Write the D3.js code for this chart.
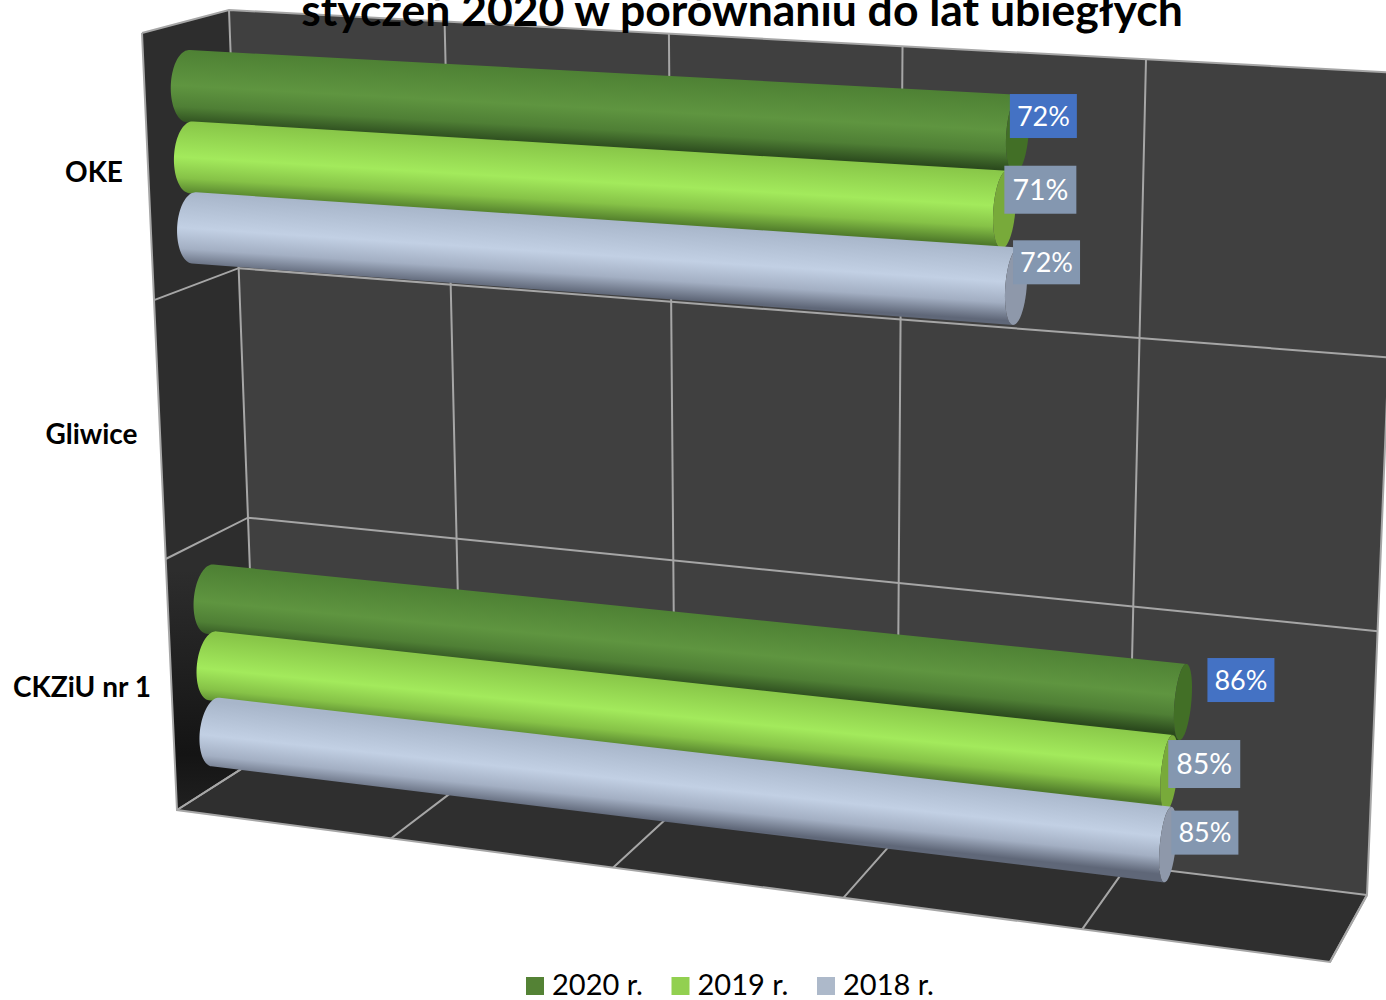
<!DOCTYPE html>
<html>
<head>
<meta charset="utf-8">
<script src="https://cdn.jsdelivr.net/npm/d3@7"></script>
<style>
  html, body { margin: 0; padding: 0; background: #fff; overflow: hidden; }
  text { font-family: Lato, "Open Sans", sans-serif; }
</style>
</head>
<body>
<div id="chart"></div>
<script>
// data
const titleLine = 'styczeń 2020 w porównaniu do lat ubiegłych';
const categories = ['OKE', 'Gliwice', 'CKZiU nr 1'];
const seriesNames = ['2020 r.', '2019 r.', '2018 r.'];
const values2020 = [72, null, 86];
const values2019 = [71, null, 85];
const values2018 = [72, null, 85];
const valueTicks = [0, 20, 40, 60, 80, 100];

// box corners in screen pixels: [top left, top right, bottom right, bottom left]
const backQuad = [[229, 10], [1400, 73], [1367, 895], [257, 759]];
const frontQuad = [[142, 33], [1352, 115], [1330, 962], [177, 810]];
const barQuad = [[185.5, 25], [1378, 87], [1352, 928], [218, 788]];
const barDepth = 0.2;

const seriesColors = [
  { swatch: '#548235', cap: '#426f26', shade: ['#4e8134', '#5f9540', '#4f7f35', '#2b4a1d'] },
  { swatch: '#92d050', cap: '#78aa3a', shade: ['#88c648', '#a3ea5c', '#86c247', '#4f7a2a'] },
  { swatch: '#adb9ca', cap: '#8e98aa', shade: ['#a8b6ca', '#c2d0e4', '#a3afc3', '#5f6778'] }
];
// data labels were moved by hand in the original: offset from the bar end
const labelLayout = [
  [{ dx: 26, dy: -18, big: false }, null, { dx: 58, dy: -22, big: false }],
  [{ dx: 36, dy: -20, big: true }, null, { dx: 35, dy: -9, big: true }],
  [{ dx: 30.5, dy: -24, big: false }, null, { dx: 37, dy: -12, big: false }]
];

const width = 1386, height = 1000;
const svg = d3.select('#chart').append('svg')
  .attr('width', width).attr('height', height).style('display', 'block');
const defs = svg.append('defs');

// projective map from the unit square to a quad
function quadMap(q) {
  const [p0, p1, p2, p3] = q;
  const dx1 = p1[0] - p2[0], dx2 = p3[0] - p2[0], sx = p0[0] - p1[0] + p2[0] - p3[0];
  const dy1 = p1[1] - p2[1], dy2 = p3[1] - p2[1], sy = p0[1] - p1[1] + p2[1] - p3[1];
  const den = dx1 * dy2 - dx2 * dy1;
  const g = (sx * dy2 - dx2 * sy) / den, h = (dx1 * sy - sx * dy1) / den;
  const a = p1[0] - p0[0] + g * p1[0], b = p3[0] - p0[0] + h * p3[0];
  const d = p1[1] - p0[1] + g * p1[1], e = p3[1] - p0[1] + h * p3[1];
  return (u, t) => {
    const w = g * u + h * t + 1;
    return [(a * u + b * t + p0[0]) / w, (d * u + e * t + p0[1]) / w];
  };
}
const back = quadMap(backQuad), front = quadMap(frontQuad), barPlane = quadMap(barQuad);

const x = d3.scaleLinear().domain([0, 100]).range([0, 1]);
const y = d3.scaleBand().domain(categories).range([0, 1]);
const yInner = d3.scaleBand().domain(seriesNames).range([y.bandwidth() * 0.095, y.bandwidth() * 0.905]);

const line = d3.line();
const gridColor = '#a6a6a6';

// walls
svg.append('path').attr('d', line(backQuad) + 'Z').attr('fill', '#404040');
const sideGrad = defs.append('linearGradient').attr('id', 'sideWall')
  .attr('x1', 0).attr('y1', 0).attr('x2', 0).attr('y2', 1);
sideGrad.append('stop').attr('offset', 0.7).attr('stop-color', '#2d2d2d');
sideGrad.append('stop').attr('offset', 0.93).attr('stop-color', '#141414');
sideGrad.append('stop').attr('offset', 1).attr('stop-color', '#202020');
svg.append('path').attr('d', line([backQuad[0], backQuad[3], frontQuad[3], frontQuad[0]]) + 'Z')
  .attr('fill', 'url(#sideWall)');
svg.append('path').attr('d', line([backQuad[3], backQuad[2], frontQuad[2], frontQuad[3]]) + 'Z')
  .attr('fill', '#2f2f2f');

// gridlines
const grid = svg.append('g').attr('fill', 'none').attr('stroke', gridColor).attr('stroke-width', 2);
valueTicks.forEach(v => {
  grid.append('path').attr('d', line([back(x(v), 0), back(x(v), 1), front(x(v), 1)]));
});
d3.range(categories.length + 1).forEach(i => {
  const t = i / categories.length;
  grid.append('path').attr('d', line([front(0, t), back(0, t), back(1, t)]));
});
grid.append('path').attr('d', line([frontQuad[0], frontQuad[3], frontQuad[2], backQuad[2]]));

// cylinders
const bars = svg.append('g');
const allValues = [values2020, values2019, values2018];
const thetaSteps = d3.range(0, 1.0001, 1 / 48);

seriesNames.forEach((name, s) => {
  categories.forEach((cat, c) => {
    const val = allValues[s][c];
    if (val == null) return;
    const vMid = y(cat) + yInner(name) + yInner.bandwidth() / 2;
    const r = yInner.bandwidth() / 2;
    const ellipse = u => {
      const C = barPlane(u, vMid), hi = barPlane(u, vMid - r), lo = barPlane(u, vMid + r);
      const bk = back(u, vMid), fr = front(u, vMid);
      const A = [(lo[0] - hi[0]) / 2, (lo[1] - hi[1]) / 2];
      const B = [(bk[0] - fr[0]) * barDepth, (bk[1] - fr[1]) * barDepth];
      return th => [C[0] + A[0] * Math.cos(th) + B[0] * Math.sin(th),
                    C[1] + A[1] * Math.cos(th) + B[1] * Math.sin(th)];
    };
    const uEnd = x(val);
    const left = ellipse(0), right = ellipse(uEnd);
    const p0 = barPlane(0, vMid), p1 = barPlane(uEnd, vMid);
    const D = [p1[0] - p0[0], p1[1] - p0[1]];
    const cross = (a, b) => a[0] * b[1] - a[1] * b[0];
    // silhouette angle: where the ellipse tangent runs along the bar
    const e0 = ellipse(uEnd * 0.5), eMid = barPlane(uEnd * 0.5, vMid);
    const Am = [e0(0)[0] - eMid[0], e0(0)[1] - eMid[1]];
    const Bm = [e0(Math.PI / 2)[0] - eMid[0], e0(Math.PI / 2)[1] - eMid[1]];
    const th0 = Math.atan(cross(Bm, D) / cross(Am, D));

    const leftArc = thetaSteps.map(f => left(th0 - Math.PI + f * Math.PI));
    const rightArc = thetaSteps.map(f => right(th0 - f * Math.PI));

    const gradId = 'bar' + s + '_' + c;
    const g1 = e0(th0 - Math.PI), g2 = e0(th0);
    const grad = defs.append('linearGradient').attr('id', gradId)
      .attr('gradientUnits', 'userSpaceOnUse')
      .attr('x1', g1[0]).attr('y1', g1[1]).attr('x2', g2[0]).attr('y2', g2[1]);
    [0, 0.48, 0.76, 1].forEach((o, i) => {
      grad.append('stop').attr('offset', o).attr('stop-color', seriesColors[s].shade[i]);
    });

    bars.append('path').attr('d', line(leftArc.concat(rightArc)) + 'Z')
      .attr('fill', 'url(#' + gradId + ')');
    bars.append('path')
      .attr('d', line(thetaSteps.map(f => right(f * 2 * Math.PI))) + 'Z')
      .attr('fill', seriesColors[s].cap);
  });
});

// data labels
const labels = svg.append('g');
seriesNames.forEach((name, s) => {
  categories.forEach((cat, c) => {
    const val = allValues[s][c];
    if (val == null) return;
    const vMid = y(cat) + yInner(name) + yInner.bandwidth() / 2;
    const end = barPlane(x(val), vMid);
    const lay = labelLayout[s][c];
    const w = lay.big ? 72 : 67, h = lay.big ? 48 : 44;
    labels.append('rect')
      .attr('x', end[0] + lay.dx - w / 2).attr('y', end[1] + lay.dy - h / 2)
      .attr('width', w).attr('height', h)
      .attr('fill', s === 0 ? '#4472c4' : '#8497b0');
    labels.append('text')
      .attr('x', end[0] + lay.dx).attr('y', end[1] + lay.dy)
      .attr('dy', '0.36em').attr('text-anchor', 'middle')
      .attr('font-size', lay.big ? 28.5 : 27).attr('fill', '#fff')
      .text(val + '%');
  });
});

// category labels
const catLabelX = [94, 91.5, 82];
const catLabelY = [182, 444, 697];
svg.append('g').selectAll('text').data(categories).enter().append('text')
  .attr('x', (d, i) => catLabelX[i]).attr('y', (d, i) => catLabelY[i])
  .attr('text-anchor', 'middle').attr('font-size', 28).attr('font-weight', 700)
  .attr('fill', '#000').text(d => d);

// title, its upper line is cut off by the frame
svg.append('text').attr('x', 742).attr('y', 26).attr('text-anchor', 'middle')
  .attr('font-size', 44.5).attr('font-weight', 700).attr('fill', '#000')
  .text(titleLine);

// legend
const legendX = d3.scalePoint().domain(seriesNames).range([526, 817]);
const legend = svg.append('g').selectAll('g').data(seriesNames).enter().append('g')
  .attr('transform', d => 'translate(' + legendX(d) + ',977)');
legend.append('rect').attr('width', 18).attr('height', 18)
  .attr('fill', (d, i) => seriesColors[i].swatch);
legend.append('text').attr('x', 26).attr('y', 18)
  .attr('font-size', 29).attr('fill', '#000').text(d => d);
</script>
</body>
</html>
